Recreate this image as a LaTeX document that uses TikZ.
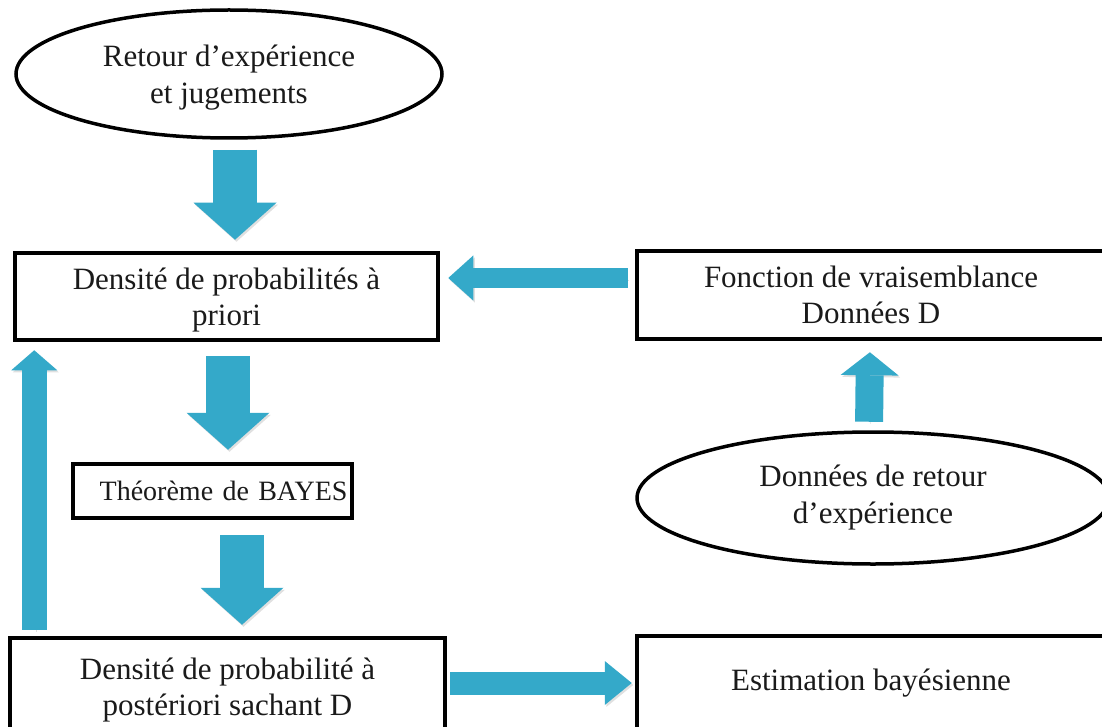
\documentclass[tikz,border=0pt]{standalone}
\usepackage{fontspec}
\setmainfont{Liberation Serif}
\usetikzlibrary{shapes.geometric,arrows.meta}
\definecolor{arrowblue}{HTML}{34A9C9}
\definecolor{inkgray}{HTML}{1A1A1A}
\begin{document}
\begin{tikzpicture}[x=1pt,y=-1pt,
  boxnode/.style={draw=black, line width=3.5pt, rectangle, inner sep=0pt, align=center,
    text=inkgray, font=\fontsize{31}{36}\selectfont},
  ovalnode/.style={boxnode, ellipse, font=\fontsize{31}{37}\selectfont},
  fatarrow/.style n args={3}{draw=arrowblue, line width=#1,
    -{Triangle[width=#2,length=#3,line width=0pt]},
    preaction={draw=black, opacity=0.12, transform canvas={xshift=1.5pt,yshift=-2pt}}}]
\useasboundingbox (0,0) rectangle (1102,727);
\clip (0,0) rectangle (1102,727);
\fill[white] (0,0) rectangle (1102,727);

% ---- nodes ----
\node[ovalnode, minimum width=426pt, minimum height=128pt, text depth=0pt] (retour) at (229,74)
  {Retour d’expérience\\et jugements};
\node[boxnode, minimum width=423pt, minimum height=87pt, text depth=0pt] (prior) at (226.5,296.5)
  {Densité de probabilités à\\priori};
\node[boxnode, minimum width=468pt, minimum height=88pt] (vrais) at (871,295)
  {Fonction de vraisemblance\\Données D};
\node[ovalnode, minimum width=472pt, minimum height=132pt] (donnees) at (873,498)
  {Données de retour\\d’expérience};
\node[boxnode, minimum width=279pt, minimum height=54pt, text width=270pt,
  inner xsep=4.5pt, align=right, font=\fontsize{28}{32}\selectfont] (bayes) at (212.5,491)
  {Théorème de BAYES};
\node[boxnode, minimum width=435pt, minimum height=104pt] (post) at (227.5,690)
  {Densité de probabilité à\\postériori sachant D};
\node[boxnode, minimum width=468pt, minimum height=94pt] (estim) at (871,683)
  {Estimation bayésienne};

% ---- block arrows ----
\draw[fatarrow={44pt}{83pt}{37pt}, shorten <=10pt, shorten >=11.5pt]
  ([xshift=6pt]retour.south) -- ([xshift=8.5pt]prior.north);
\draw[fatarrow={44pt}{83pt}{37pt}, shorten <=14.5pt, shorten >=12.5pt]
  ([xshift=1.5pt]prior.south) -- ([xshift=15.5pt]bayes.north);
\draw[fatarrow={44pt}{83pt}{37pt}, shorten <=15.5pt, shorten >=11.5pt]
  ([xshift=29.5pt]bayes.south) -- ([xshift=14.5pt]post.north);
\draw[fatarrow={20pt}{45pt}{25pt}, shorten <=7.5pt, shorten >=8.5pt]
  ([yshift=17pt]vrais.west) -- ([yshift=18.5pt]prior.east);
\draw[fatarrow={25pt}{46pt}{20pt}, shorten <=6.5pt, shorten >=8.5pt]
  ([xshift=26pt]post.north west) -- ([xshift=21pt]prior.south west);
\draw[fatarrow={23pt}{44pt}{27pt}, shorten <=3.5pt, shorten >=3.5pt]
  (post.east |- estim.west) -- (estim.west);
\draw[fatarrow={28pt}{58pt}{23pt}, shorten <=8.5pt, shorten >=11.5pt]
  ([xshift=-4pt]donnees.north) -- ([xshift=-1pt]vrais.south);
\end{tikzpicture}
\end{document}
